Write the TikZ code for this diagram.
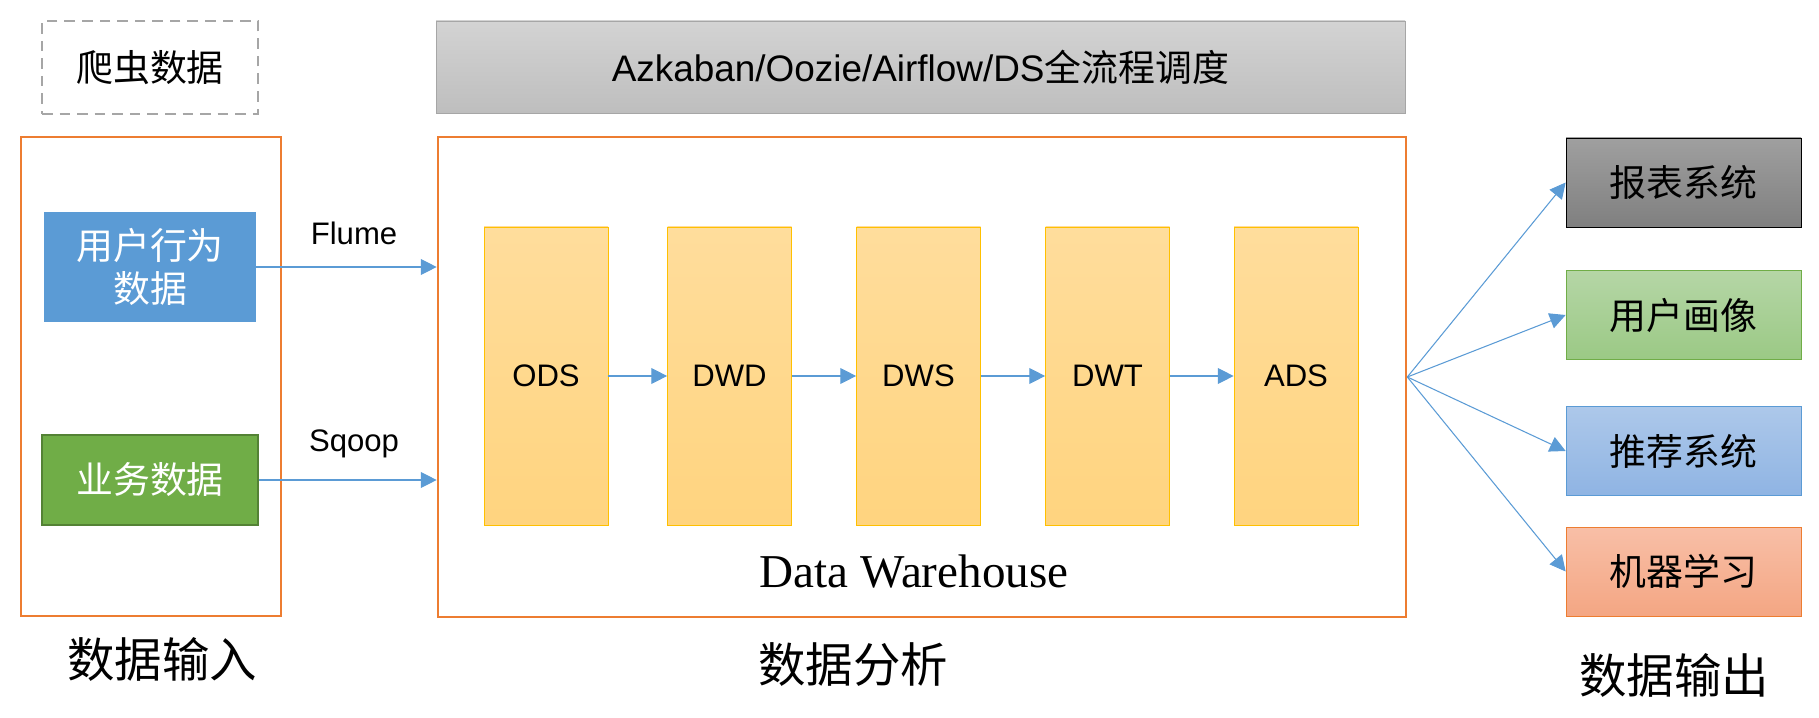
\documentclass[tikz,border=0pt]{standalone}
\usepackage{fontspec}
\setmainfont{Liberation Sans}
\newfontfamily\cjk{Noto Sans CJK SC}
\newfontfamily\dwserif{Liberation Serif}
\usepackage{tikz}
\usetikzlibrary{positioning,arrows.meta}

\definecolor{frameorange}{HTML}{ED7D31}
\definecolor{arrowblue}{HTML}{5B9BD5}
\definecolor{srcblue}{HTML}{5B9BD5}
\definecolor{srcgreen}{HTML}{70AD47}
\definecolor{srcgreenline}{HTML}{548235}
\definecolor{layerline}{HTML}{FFC000}
\definecolor{layertop}{HTML}{FFDD9C}
\definecolor{layerbot}{HTML}{FFD47F}
\definecolor{schedline}{HTML}{A6A6A6}
\definecolor{schedtop}{HTML}{D3D3D3}
\definecolor{schedbot}{HTML}{BEBEBE}

\begin{document}
\begin{tikzpicture}[
    >={Triangle[length=9pt,width=9pt]},
    frame/.style={rectangle, draw=frameorange, line width=1.5pt},
    src/.style={rectangle, minimum width=4.24cm, minimum height=2.2cm, font=\cjk\fontsize{21}{24.5}\selectfont, text=white, align=center},
    layer/.style={rectangle, draw=layerline, top color=layertop, bottom color=layerbot, minimum width=2.48cm, minimum height=5.96cm, font=\fontsize{17.7}{21}\selectfont},
    app/.style={rectangle, minimum width=4.7cm, minimum height=1.78cm, font=\cjk\fontsize{21}{25}\selectfont},
    title/.style={font=\cjk\fontsize{27}{32}\selectfont},
    tool/.style={font=\fontsize{17.7}{21}\selectfont},
    flow/.style={->, draw=arrowblue, line width=0.6pt}
]
\useasboundingbox (0,0) rectangle (36.38,14.34);

% === Input (left side) ===
\node[rectangle, draw=schedline, dash pattern=on 6pt off 4pt, line width=1.2pt, minimum width=4.32cm, minimum height=1.86cm, font=\cjk\fontsize{21}{25}\selectfont] (crawl) at (3.0, 12.99) {爬虫数据};
\node[frame, minimum width=5.2cm, minimum height=9.58cm] (inbox) at (3.02, 6.81) {};
\node[src, fill=srcblue] (user) at (3.0, 9.0) {用户行为\\数据};
\node[src, fill=srcgreen, draw=srcgreenline, line width=1pt, minimum width=4.32cm, minimum height=1.8cm] (biz) at (3.0, 4.74) {业务数据};
\node[title] (intitle) at (3.24, 1.16) {数据输入};

% === Warehouse (middle) ===
\node[rectangle, draw=schedline, top color=schedtop, bottom color=schedbot, minimum width=19.38cm, minimum height=1.84cm, font=\fontsize{21}{25}\selectfont] (sched) at (18.41, 13.0) {Azkaban/Oozie/Airflow/DS{\cjk 全流程调度}};
\node[frame, minimum width=19.36cm, minimum height=9.6cm] (dw) at (18.44, 6.8) {};

% Layers
\node[layer] (ods) at (10.92, 6.82) {ODS};
\node[layer] (dwd) at (14.59, 6.82) {DWD};
\node[layer] (dws) at (18.37, 6.82) {DWS};
\node[layer] (dwt) at (22.15, 6.82) {DWT};
\node[layer] (ads) at (25.92, 6.82) {ADS};

\draw[flow] (ods) -- (dwd);
\draw[flow] (dwd) -- (dws);
\draw[flow] (dws) -- (dwt);
\draw[flow] (dwt) -- (ads);

\node[font=\dwserif\fontsize{26.8}{30}\selectfont] (dwlabel) at (18.28, 2.9) {Data Warehouse};
\node[title] (dwtitle) at (17.06, 1.04) {数据分析};

% Ingestion
\draw[flow] (user.east) -- (dw.west |- user.east);
\draw[flow] (biz.east) -- (dw.west |- biz.east);
\node[tool] (flume) at (7.08, 9.68) {Flume};
\node[tool] (sqoop) at (7.08, 5.46) {Sqoop};

% === Output (right side) ===
\node[app, draw=black, top color=gray!75, bottom color=gray!100] (report) at (33.67, 10.69) {报表系统};
\node[app, draw=srcgreen, top color={rgb,255:red,181;green,214;blue,166}, bottom color={rgb,255:red,155;green,201;blue,133}] (portrait) at (33.67, 8.04) {用户画像};
\node[app, draw=srcblue, top color={rgb,255:red,173;green,200;blue,234}, bottom color={rgb,255:red,143;green,180;blue,227}] (recom) at (33.67, 5.32) {推荐系统};
\node[app, draw=frameorange, top color={rgb,255:red,248;green,191;blue,167}, bottom color={rgb,255:red,244;green,166;blue,131}] (ml) at (33.67, 2.91) {机器学习};
\node[title] (outtitle) at (33.48, 0.84) {数据输出};

\coordinate (fan) at (dw.east);
\draw[flow] (fan) -- (report.west);
\draw[flow] (fan) -- (portrait.west);
\draw[flow] (fan) -- (recom.west);
\draw[flow] (fan) -- (ml.west);
\end{tikzpicture}
\end{document}
